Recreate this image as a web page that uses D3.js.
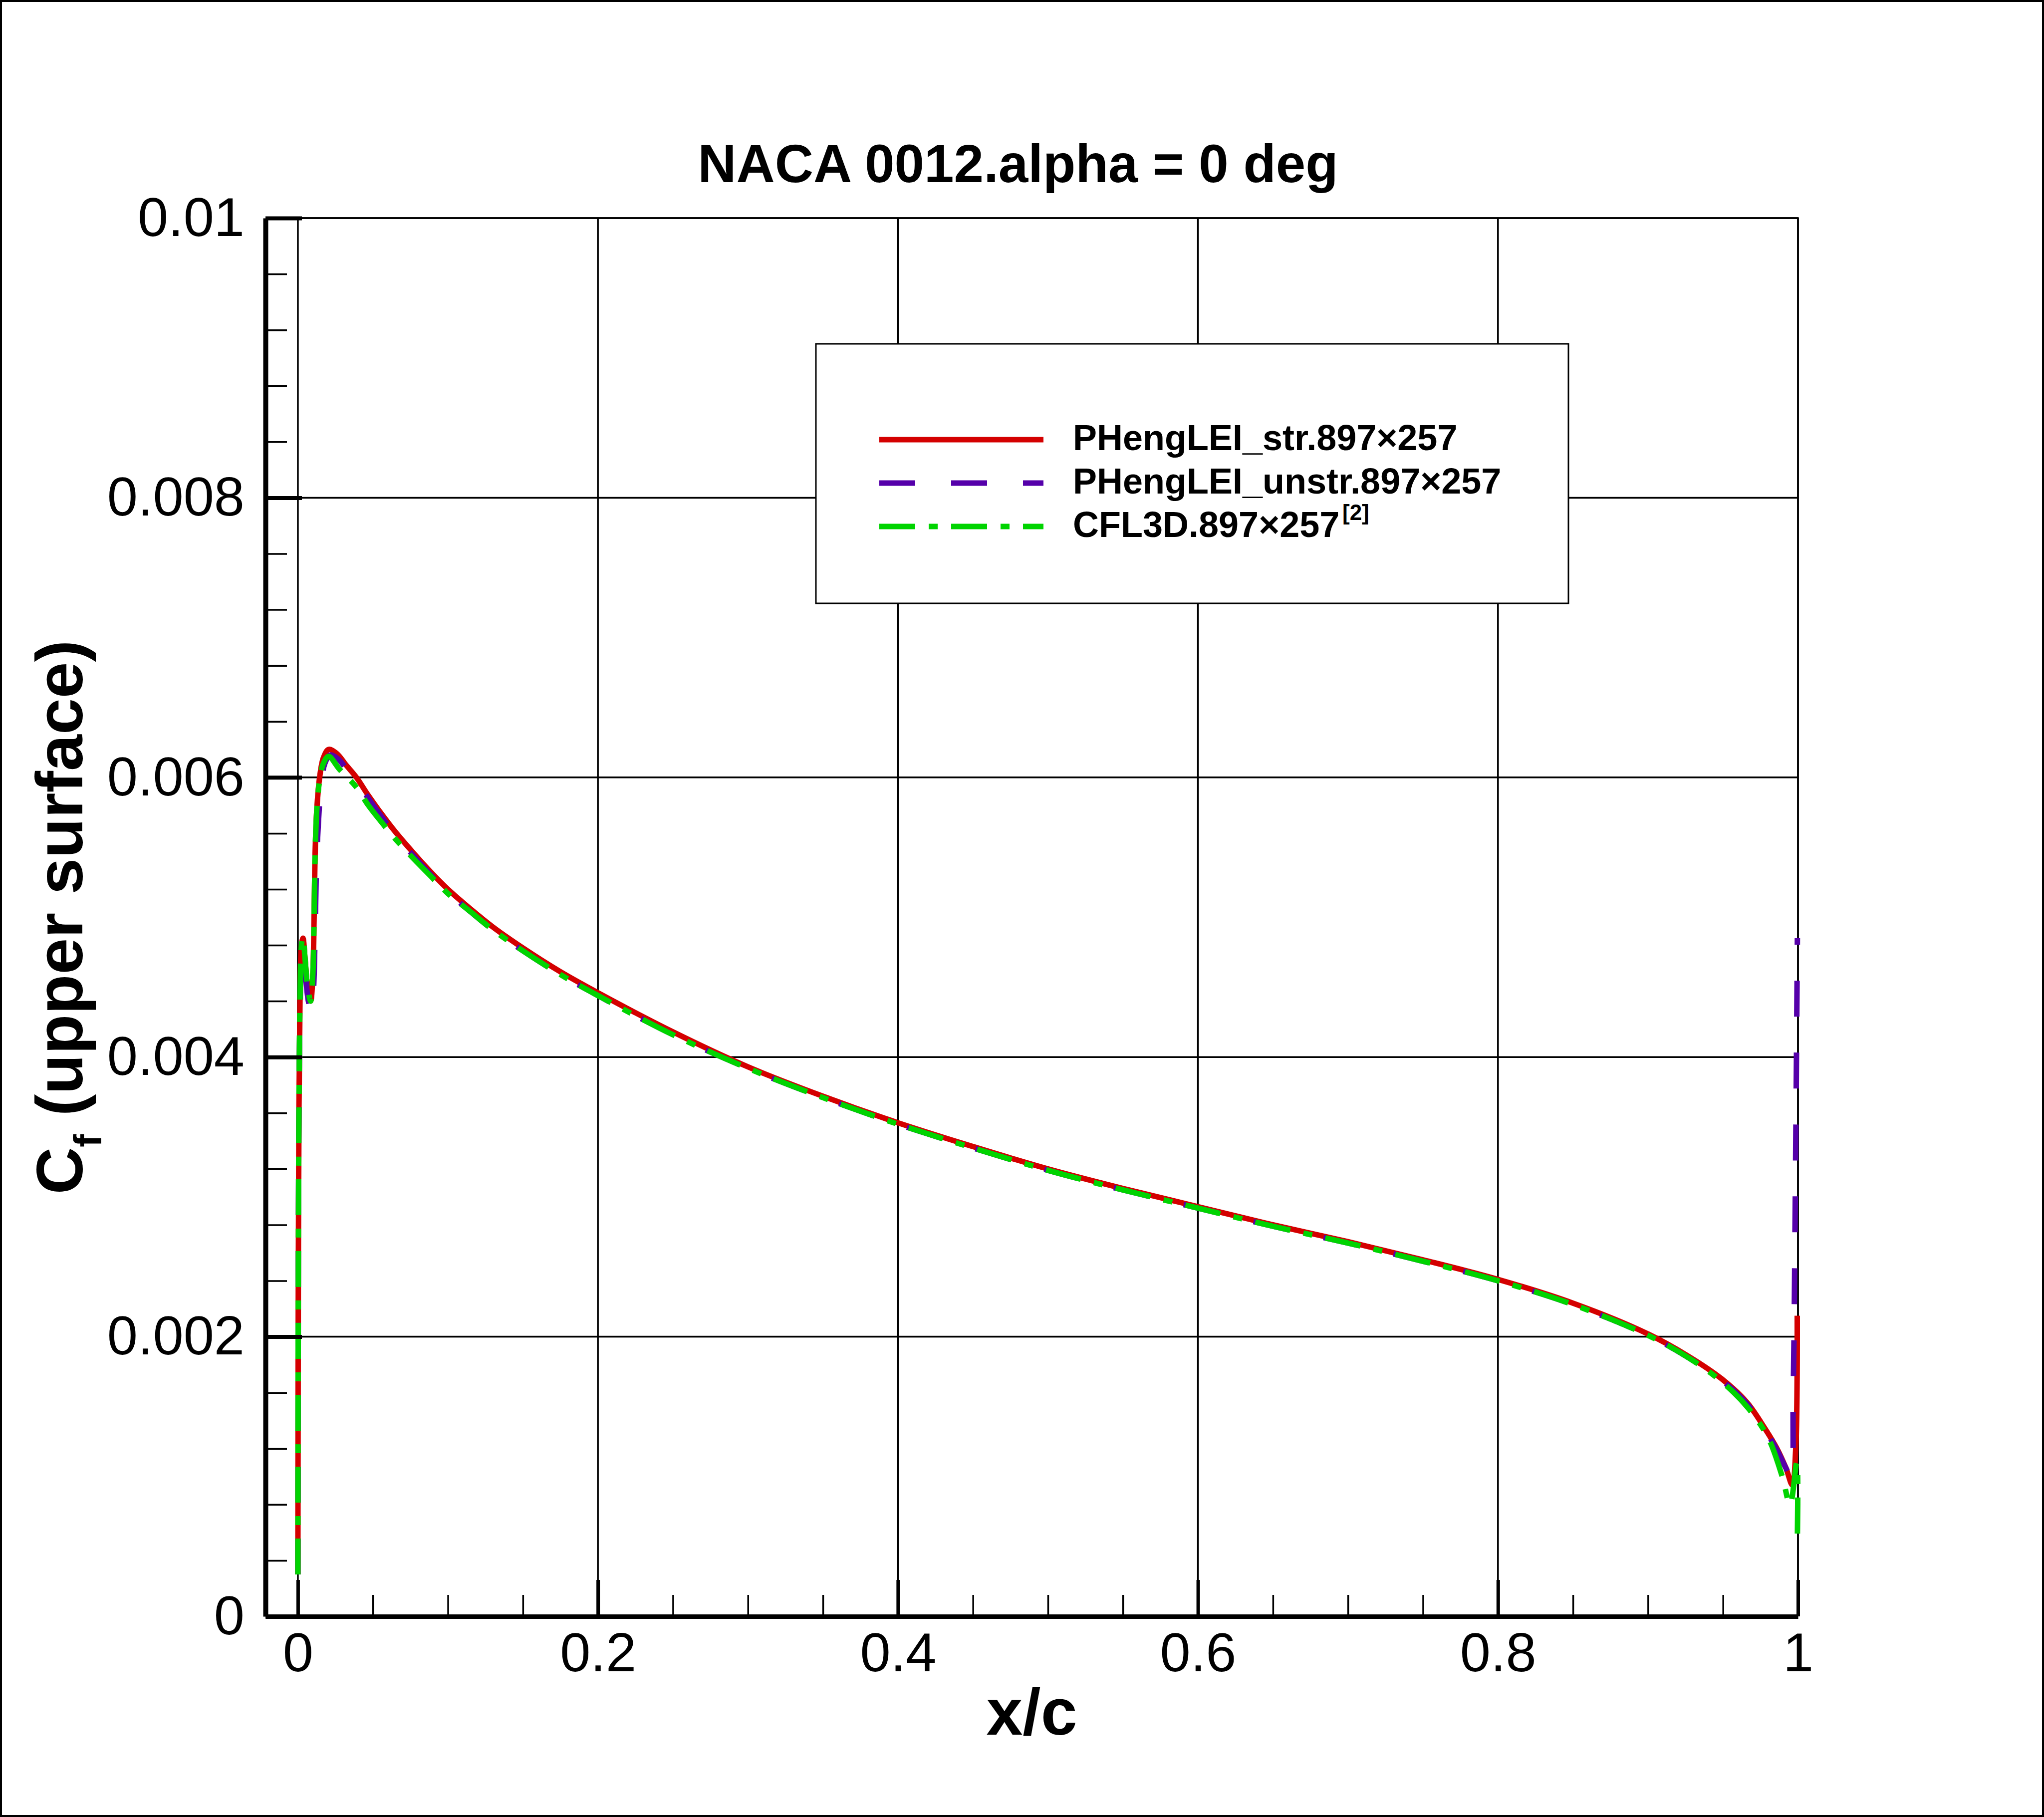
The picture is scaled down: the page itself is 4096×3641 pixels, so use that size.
<!DOCTYPE html>
<html>
<head>
<meta charset="utf-8">
<script src="https://cdn.jsdelivr.net/npm/d3@7"></script>
<style>
  body { margin: 0; background: #fff; }
  svg { display: block; font-family: "Liberation Sans", Arial, sans-serif; }
</style>
</head>
<body>
<svg id="chart" width="4096" height="3641"></svg>
<script>
// axis ticks
const xTicks = [0, 0.2, 0.4, 0.6, 0.8, 1];
const xTickLabels = ["0", "0.2", "0.4", "0.6", "0.8", "1"];
const yTicks = [0, 0.002, 0.004, 0.006, 0.008, 0.01];
const yTickLabels = ["0", "0.002", "0.004", "0.006", "0.008", "0.01"];

const seriesNames = ["PHengLEI_str.897\u00d7257", "PHengLEI_unstr.897\u00d7257", "CFL3D.897\u00d7257"];

// PHengLEI structured
const xStr = [0, 0.0001, 0.0003, 0.0007, 0.0014, 0.0024, 0.0034, 0.0048, 0.0065, 0.0085,
  0.0100, 0.0108, 0.0116, 0.0128, 0.0145, 0.017, 0.0205, 0.026, 0.032, 0.039,
  0.047, 0.055, 0.065, 0.077, 0.088, 0.1, 0.115, 0.13, 0.15, 0.175,
  0.2, 0.25, 0.3, 0.35, 0.4, 0.45, 0.5, 0.55, 0.6, 0.65,
  0.7, 0.75, 0.8, 0.85, 0.9, 0.927, 0.949, 0.966, 0.977, 0.986,
  0.992, 0.9962, 0.9985, 0.9995];
const cfStr = [0.0003, 0.0012, 0.0025, 0.0036, 0.0044, 0.0048, 0.00485, 0.0047, 0.0045, 0.0044,
  0.0046, 0.0050, 0.0055, 0.0058, 0.0060, 0.00614, 0.0062, 0.00617, 0.00609, 0.0060,
  0.00587, 0.00575, 0.00561, 0.00546, 0.00533, 0.0052, 0.00506, 0.00493, 0.00478, 0.00461,
  0.00446, 0.00418, 0.00393, 0.00372, 0.00353, 0.00336, 0.0032, 0.00306, 0.00293, 0.0028,
  0.00268, 0.00255, 0.00241, 0.00224, 0.00202, 0.00186, 0.0017, 0.00153, 0.00136, 0.0012,
  0.00106, 0.00094, 0.0012, 0.00215];

// PHengLEI unstructured
const xUnstr = [0, 0.0001, 0.0003, 0.0007, 0.0014, 0.0024, 0.0034, 0.005, 0.007, 0.0092,
  0.0105, 0.0115, 0.0125, 0.0138, 0.0155, 0.018, 0.0215, 0.027, 0.033, 0.04,
  0.047, 0.055, 0.065, 0.077, 0.088, 0.1, 0.115, 0.13, 0.15, 0.175,
  0.2, 0.25, 0.3, 0.35, 0.4, 0.45, 0.5, 0.55, 0.6, 0.65,
  0.7, 0.75, 0.8, 0.85, 0.9, 0.927, 0.949, 0.966, 0.977, 0.986,
  0.992, 0.9952, 0.9968, 0.9982, 0.9996];
const cfUnstr = [0.0003, 0.0012, 0.0025, 0.0036, 0.0043, 0.0047, 0.00478, 0.0046, 0.0044, 0.00432,
  0.0045, 0.0049, 0.0054, 0.0057, 0.00595, 0.0061, 0.00616, 0.00613, 0.00605, 0.00596,
  0.00585, 0.00573, 0.00559, 0.00544, 0.00531, 0.00518, 0.00504, 0.00491, 0.00476, 0.00459,
  0.00444, 0.00416, 0.00392, 0.00371, 0.00352, 0.00335, 0.00319, 0.00305, 0.00292, 0.00279,
  0.00267, 0.00254, 0.0024, 0.00223, 0.00201, 0.00185, 0.00169, 0.00152, 0.00135, 0.00119,
  0.00106, 0.001, 0.0016, 0.003, 0.00485];

// CFL3D reference
const xCfl3d = [0, 0.0001, 0.0003, 0.0007, 0.0014, 0.0024, 0.0034, 0.0048, 0.0065, 0.0085,
  0.0100, 0.0108, 0.0116, 0.0128, 0.0145, 0.017, 0.0205, 0.0276, 0.039,
  0.047, 0.055, 0.065, 0.077, 0.088, 0.1, 0.115, 0.13, 0.15, 0.175,
  0.2, 0.25, 0.3, 0.35, 0.4, 0.45, 0.5, 0.55, 0.6, 0.65,
  0.7, 0.75, 0.8, 0.85, 0.9, 0.927, 0.949, 0.966,
  0.98, 0.9895, 0.9947, 0.9992, 0.9995];
const cfCfl3d = [0.0003, 0.0012, 0.0025, 0.0036, 0.0044, 0.0048, 0.00486, 0.0047, 0.0045, 0.0044,
  0.0046, 0.0050, 0.0055, 0.0058, 0.00598, 0.0061, 0.00615, 0.00606, 0.00593,
  0.0058, 0.00569, 0.00556, 0.00542, 0.0053, 0.00517, 0.00504, 0.00491, 0.00476, 0.00459,
  0.00444, 0.00416, 0.00392, 0.00371, 0.00352, 0.00335, 0.00319, 0.00305, 0.00292, 0.00279,
  0.00267, 0.00254, 0.0024, 0.00223, 0.00201, 0.00185, 0.00168, 0.0015,
  0.00128, 0.001, 0.0008, 0.0011, 0.0005];

const svg = d3.select("#chart");

svg.append("rect")
  .attr("x", 2).attr("y", 2)
  .attr("width", 4092).attr("height", 3637)
  .attr("fill", "#fff")
  .attr("stroke", "#000")
  .attr("stroke-width", 4);

let xScale = d3.scaleLinear().domain([-0.0216, 1]).range([532, 3603]);
let yScale = d3.scaleLinear().domain([0, 0.01]).range([3239, 437]);

const [plotLeft, plotRight] = xScale.range();
const [plotBottom, plotTop] = yScale.range();

// grid
let grid = svg.append("g").attr("stroke", "#000").attr("stroke-width", 3.5);
grid.selectAll(".vgrid").data(xTicks).join("line")
  .attr("x1", d => xScale(d)).attr("x2", d => xScale(d))
  .attr("y1", plotTop).attr("y2", plotBottom);
grid.selectAll(".hgrid").data(yTicks).join("line")
  .attr("x1", plotLeft).attr("x2", plotRight)
  .attr("y1", d => yScale(d)).attr("y2", d => yScale(d));

// frame top / right
svg.append("path")
  .attr("d", `M${plotLeft},${plotTop}H${plotRight}V${plotBottom}`)
  .attr("fill", "none").attr("stroke", "#000").attr("stroke-width", 3.5);

// curves
let lineFor = (xs, ys) => d3.line()
  .x(i => xScale(xs[i]))
  .y(i => yScale(ys[i]))
  .curve(d3.curveCatmullRom.alpha(0.5))(d3.range(xs.length));

const curves = [
  { xs: xStr, ys: cfStr, color: "#d40000", dash: null },
  { xs: xUnstr, ys: cfUnstr, color: "#5500aa", dash: "72 72" },
  { xs: xCfl3d, ys: cfCfl3d, color: "#00d400", dash: "72 27 18 27" }
];

let plot = svg.append("g");
plot.selectAll("path").data(curves).join("path")
  .attr("d", d => lineFor(d.xs, d.ys))
  .attr("fill", "none")
  .attr("stroke", d => d.color)
  .attr("stroke-width", 11)
  .attr("stroke-linejoin", "round")
  .attr("stroke-dasharray", d => d.dash);

// minor ticks
let xMinor = d3.range(0, 1.0001, 0.05).filter(v => Math.abs(v * 5 - Math.round(v * 5)) > 1e-6);
let yMinor = d3.range(0, 0.01001, 0.0004).filter(v => Math.abs(v * 500 - Math.round(v * 500)) > 1e-6);

let xMinorAxis = svg.append("g")
  .attr("transform", `translate(0,${plotBottom})`)
  .call(d3.axisBottom(xScale).tickValues(xMinor).tickFormat("").tickSizeInner(-43).tickSizeOuter(0));
xMinorAxis.select(".domain").remove();
xMinorAxis.selectAll("line").attr("stroke-width", 3.5);

let yMinorAxis = svg.append("g")
  .attr("transform", `translate(${plotLeft},0)`)
  .call(d3.axisLeft(yScale).tickValues(yMinor).tickFormat("").tickSizeInner(-43).tickSizeOuter(0));
yMinorAxis.select(".domain").remove();
yMinorAxis.selectAll("line").attr("stroke-width", 3.5);

// major axes
let xAxis = svg.append("g")
  .attr("transform", `translate(0,${plotBottom})`)
  .call(d3.axisBottom(xScale).tickValues(xTicks).tickFormat((d, i) => xTickLabels[i])
    .tickSizeInner(-73).tickSizeOuter(0).tickPadding(32));
xAxis.select(".domain").attr("stroke-width", 9);
xAxis.selectAll("line").attr("stroke-width", 7);
xAxis.selectAll("text").attr("font-size", 110).attr("font-family", "Liberation Sans, Arial, sans-serif");

let yAxis = svg.append("g")
  .attr("transform", `translate(${plotLeft},0)`)
  .call(d3.axisLeft(yScale).tickValues(yTicks).tickFormat((d, i) => yTickLabels[i])
    .tickSizeInner(-73).tickSizeOuter(0).tickPadding(42));
yAxis.select(".domain").attr("stroke-width", 10);
yAxis.selectAll("line").attr("stroke-width", 8);
yAxis.selectAll("text").attr("font-size", 110).attr("font-family", "Liberation Sans, Arial, sans-serif");

// title
svg.append("text")
  .attr("x", 2040).attr("y", 365)
  .attr("text-anchor", "middle")
  .attr("font-size", 107).attr("font-weight", "bold")
  .text("NACA 0012.alpha = 0 deg");

// axis titles
svg.append("text")
  .attr("x", (plotLeft + plotRight) / 2).attr("y", 3476)
  .attr("text-anchor", "middle")
  .attr("font-size", 131).attr("font-weight", "bold")
  .text("x/c");

let yTitle = svg.append("text")
  .attr("transform", `translate(165,${(plotTop + plotBottom) / 2}) rotate(-90)`)
  .attr("text-anchor", "middle")
  .attr("font-size", 131).attr("font-weight", "bold");
yTitle.append("tspan").text("C");
yTitle.append("tspan").attr("font-size", 78).attr("dy", 38).text("f");
yTitle.append("tspan").attr("dy", -38).text(" (upper surface)");

// legend
let legend = svg.append("g");
legend.append("rect")
  .attr("x", 1635).attr("y", 689)
  .attr("width", 1508).attr("height", 520)
  .attr("fill", "#fff").attr("stroke", "#000").attr("stroke-width", 3);

const legendRows = [881, 968, 1055];
legend.selectAll(".lline").data(curves).join("line")
  .attr("x1", 1762).attr("x2", 2091)
  .attr("y1", (d, i) => legendRows[i]).attr("y2", (d, i) => legendRows[i])
  .attr("stroke", d => d.color)
  .attr("stroke-width", 11)
  .attr("stroke-dasharray", d => d.dash);

legend.selectAll(".ltext").data(seriesNames).join("text")
  .attr("x", 2150).attr("y", (d, i) => legendRows[i] + 21)
  .attr("font-size", 72).attr("font-weight", "bold")
  .text(d => d);

legend.append("text")
  .attr("x", 2690).attr("y", 1042)
  .attr("font-size", 44).attr("font-weight", "bold")
  .text("[2]");
</script>
</body>
</html>
